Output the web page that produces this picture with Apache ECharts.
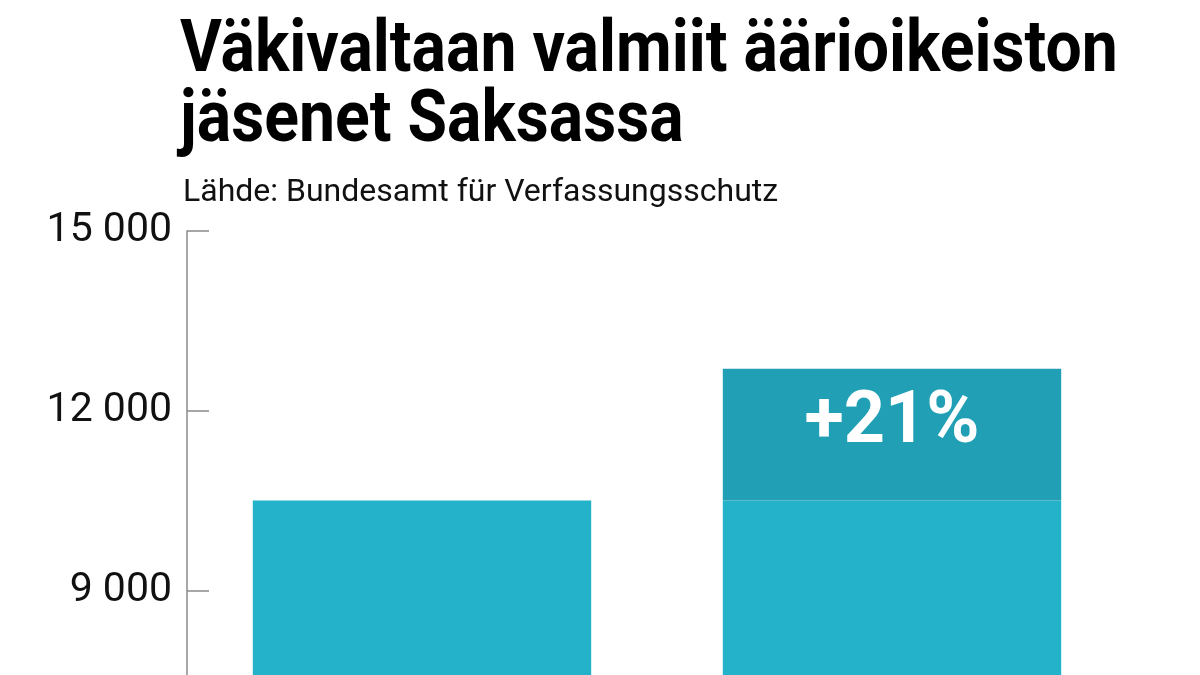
<!DOCTYPE html>
<html>
<head>
<meta charset="utf-8">
<script src="https://cdn.jsdelivr.net/npm/echarts@6/dist/echarts.min.js"></script>
<style>
html,body{margin:0;padding:0;background:#fff;}
#chart{width:1200px;height:675px;}
</style>
</head>
<body>
<div id="chart"></div>
<script>
const titleLines = ['Väkivaltaan valmiit äärioikeiston', 'jäsenet Saksassa'];
const sourceText = 'Lähde: Bundesamt für Verfassungsschutz';
const categories = ['Aiemmin', 'Nyt'];
const baseValues = [10500, 10500];
const increaseValues = [0, 2200];
const increaseLabels = ['', '+21%'];
const yMin = 6000, yMax = 15000, yInterval = 3000;

const chart = echarts.init(document.getElementById('chart'), null, {renderer: 'canvas'});
chart.setOption({
  animation: false,
  backgroundColor: '#ffffff',
  title: [
    {
      text: sourceText,
      left: 178, top: 172,
      textStyle: {fontFamily: 'Roboto', fontWeight: 'normal', fontSize: 32, color: '#111'}
    }
  ],
  graphic: [
    {
      type: 'text', x: 180, y: 18, scaleX: 0.893, silent: true,
      style: {
        text: titleLines.join('\n'),
        font: 'bold 72px Roboto', lineHeight: 70, fill: '#000',
        textAlign: 'left', textVerticalAlign: 'top'
      }
    }
  ],
  grid: {left: 187, right: 73, top: 231, bottom: -95, containLabel: false, outerBoundsMode: 'none'},
  xAxis: {
    type: 'category', data: categories,
    axisLine: {show: false}, axisTick: {show: false}, axisLabel: {show: false}
  },
  yAxis: {
    type: 'value', min: yMin, max: yMax, interval: yInterval,
    axisLine: {show: true, lineStyle: {color: '#8a8a8a', width: 1.5}},
    axisTick: {show: true, inside: true, length: 22, lineStyle: {color: '#8a8a8a', width: 1.5}},
    splitLine: {show: false},
    axisLabel: {
      fontFamily: 'Roboto', fontSize: 41, color: '#111', margin: 15, padding: [6, 0, 0, 0],
      formatter: v => String(v).replace(/\B(?=(\d{3})+(?!\d))/g, ' ')
    }
  },
  series: [
    {
      type: 'bar', stack: 'total', data: baseValues, barWidth: '72%',
      itemStyle: {color: '#23b2c9'}, silent: true
    },
    {
      type: 'bar', stack: 'total', data: increaseValues, barWidth: '72%',
      itemStyle: {color: '#21a0b5'}, silent: true,
      label: {
        show: true, position: 'inside', offset: [0, -11],
        formatter: p => increaseLabels[p.dataIndex],
        fontFamily: 'Roboto', fontWeight: 'bold', fontSize: 72, color: '#fff'
      }
    }
  ]
});
</script>
</body>
</html>
